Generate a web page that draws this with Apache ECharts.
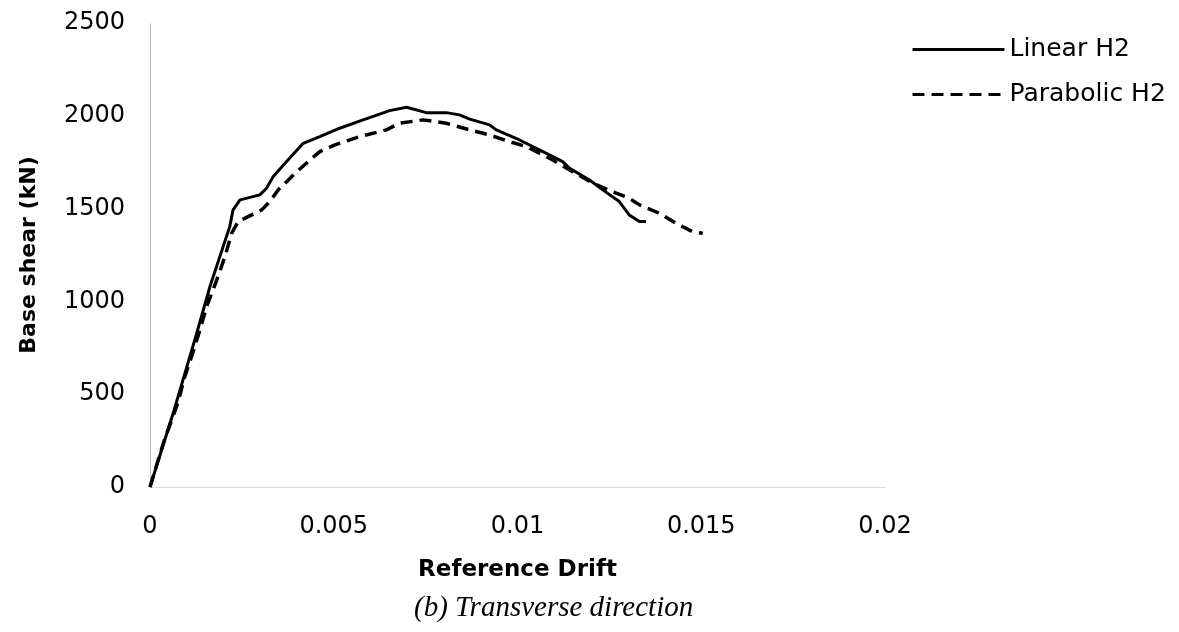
<!DOCTYPE html>
<html>
<head>
<meta charset="utf-8">
<script src="https://cdn.jsdelivr.net/npm/echarts@6/dist/echarts.min.js"></script>
<style>
  html, body { margin: 0; padding: 0; background: #fff; }
  #chart { width: 1179px; height: 632px; }
</style>
</head>
<body>
<div id="chart"></div>
<script>
// drift values (x), base shear in kN (y)
const linearDrift = [0, 0.00063, 0.00127, 0.00163, 0.00199, 0.00217, 0.00226, 0.00245, 0.00299, 0.00317,
  0.00335, 0.00371, 0.00417, 0.00462, 0.00516, 0.0058, 0.00652, 0.00698, 0.00752, 0.00806,
  0.00842, 0.0087, 0.00924, 0.00942, 0.00996, 0.01069, 0.01123, 0.01141, 0.01196, 0.01232,
  0.01277, 0.01304, 0.01332, 0.0135]
const linearShear = [0, 397, 828, 1079, 1295, 1403, 1493, 1547, 1574, 1610,
  1672, 1753, 1852, 1888, 1933, 1978, 2028, 2046, 2017, 2017,
  2005, 1982, 1951, 1924, 1879, 1807, 1753, 1718, 1654, 1601,
  1538, 1466, 1430, 1430]

const parabolicDrift = [0, 0.00036, 0.00077, 0.00093, 0.00113, 0.00136, 0.00154, 0.00179, 0.00204, 0.00222,
  0.0024, 0.00304, 0.00326, 0.00349, 0.0039, 0.00435, 0.00462, 0.00503, 0.00571, 0.00643,
  0.00679, 0.00743, 0.00806, 0.0087, 0.00924, 0.00978, 0.01024, 0.0106, 0.01096, 0.0115,
  0.01205, 0.01259, 0.01304, 0.01332, 0.01386, 0.01431, 0.01476, 0.01504]
const parabolicShear = [0, 235, 460, 585, 702, 846, 972, 1101, 1241, 1367,
  1430, 1493, 1538, 1601, 1681, 1762, 1807, 1843, 1888, 1924,
  1960, 1978, 1960, 1924, 1897, 1861, 1834, 1798, 1762, 1699,
  1637, 1591, 1556, 1520, 1475, 1421, 1376, 1367]

const seriesNames = ['Linear H2', 'Parabolic H2']

const zip = (xs, ys) => xs.map((x, i) => [x, ys[i]])

const chart = echarts.init(document.getElementById('chart'))

const option = {
  backgroundColor: '#fff',
  animation: false,
  grid: { left: 150, right: 294, top: 23, bottom: 145 },
  legend: {
    orient: 'vertical',
    left: 906,
    top: 32,
    itemWidth: 92,
    itemHeight: 20,
    itemGap: 20,
    itemStyle: { opacity: 0 },
    lineStyle: { width: 3 },
    textStyle: { fontFamily: 'DejaVu Sans', fontSize: 25, color: '#000' },
    data: seriesNames
  },
  xAxis: {
    type: 'value',
    min: 0,
    max: 0.02,
    interval: 0.005,
    name: 'Reference Drift',
    nameLocation: 'middle',
    nameGap: 72,
    nameTextStyle: { fontFamily: 'DejaVu Sans', fontWeight: 'bold', fontSize: 23, color: '#000' },
    axisLine: { show: true, lineStyle: { color: '#d0d0d0', type: 'dotted', width: 1 } },
    axisTick: { show: false },
    splitLine: { show: false },
    axisLabel: { fontFamily: 'DejaVu Sans', fontSize: 24, color: '#000', margin: 28 }
  },
  yAxis: {
    type: 'value',
    min: 0,
    max: 2500,
    interval: 500,
    name: 'Base shear (kN)',
    nameLocation: 'middle',
    nameGap: 110,
    nameTextStyle: { fontFamily: 'DejaVu Sans', fontWeight: 'bold', fontSize: 22, color: '#000' },
    axisLine: { show: true, lineStyle: { color: '#b0b0b0', type: 'dotted', width: 1 } },
    axisTick: { show: false },
    splitLine: { show: false },
    axisLabel: {
      fontFamily: 'DejaVu Sans', fontSize: 24, color: '#000', margin: 25,
      formatter: v => String(v)
    }
  },
  graphic: [
    {
      type: 'text',
      left: 414,
      top: 594,
      style: {
        text: '(b) Transverse direction',
        fontFamily: 'Liberation Serif',
        fontStyle: 'italic',
        fontSize: 29,
        fill: '#000'
      }
    }
  ],
  series: [
    {
      name: seriesNames[0],
      type: 'line',
      data: zip(linearDrift, linearShear),
      symbol: 'none',
      lineStyle: { color: '#000', width: 3 },
      itemStyle: { color: '#000' }
    },
    {
      name: seriesNames[1],
      type: 'line',
      data: zip(parabolicDrift, parabolicShear),
      symbol: 'none',
      lineStyle: { color: '#000', width: 3.5, type: [12, 7] },
      itemStyle: { color: '#000' }
    }
  ]
}

chart.setOption(option)
</script>
</body>
</html>
